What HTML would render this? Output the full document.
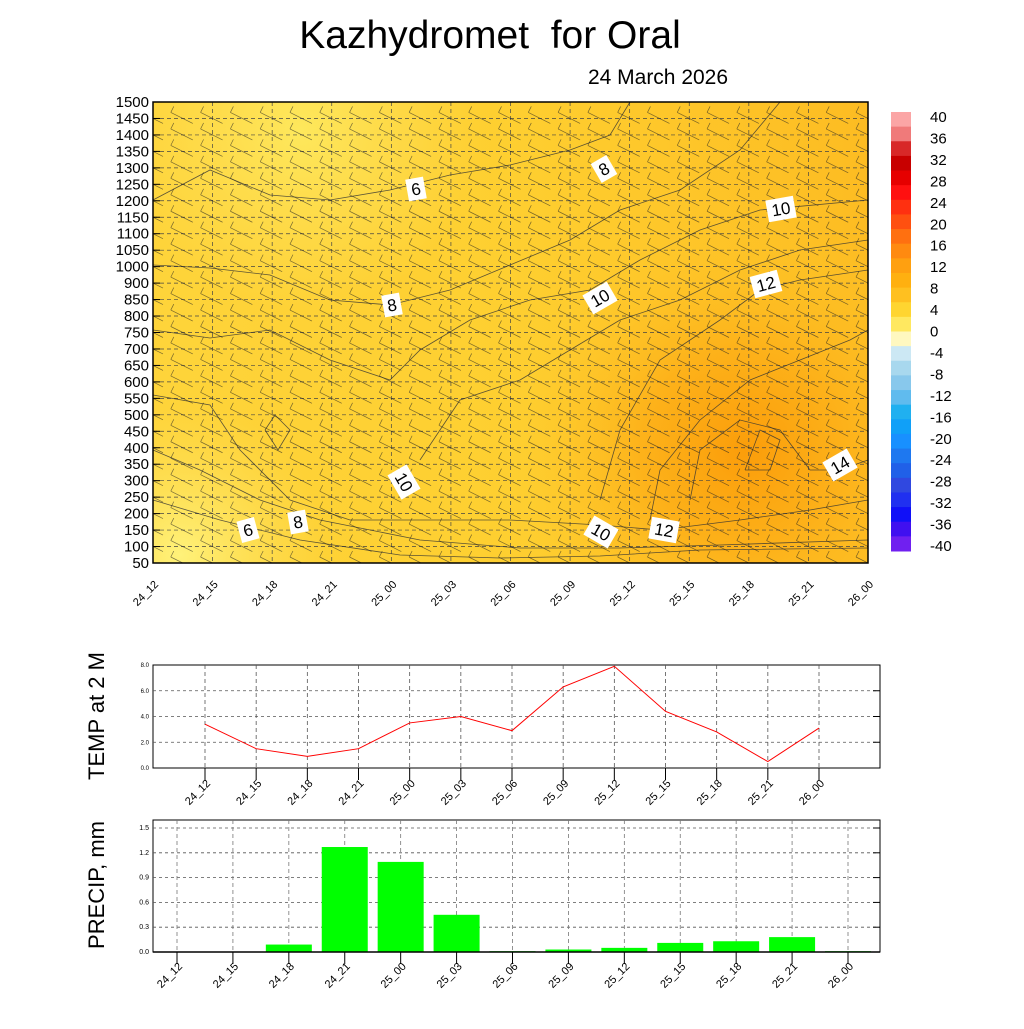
<!DOCTYPE html>
<html><head><meta charset="utf-8"><style>
body{margin:0;background:#fff;width:1024px;height:1024px;overflow:hidden}
svg text{font-family:"Liberation Sans",sans-serif}
</style></head><body>
<svg id="s" width="1024" height="1024" viewBox="0 0 1024 1024">
<defs>
<clipPath id="clipMain"><rect x="153" y="102" width="715" height="461"/></clipPath>
<radialGradient id="hot" cx="745" cy="450" r="230" gradientUnits="userSpaceOnUse">
<stop offset="0" stop-color="#fb9d0a"/><stop offset="0.45" stop-color="#fdb21a"/><stop offset="1" stop-color="#fdc82a" stop-opacity="0"/></radialGradient>
<linearGradient id="base" x1="0" y1="0" x2="1" y2="0">
<stop offset="0" stop-color="#fed43a"/><stop offset="0.5" stop-color="#fecf30"/><stop offset="1" stop-color="#fdbc22"/></linearGradient>
<radialGradient id="cool1" cx="180" cy="555" r="150" gradientUnits="userSpaceOnUse">
<stop offset="0" stop-color="#fff27a"/><stop offset="1" stop-color="#fee05a" stop-opacity="0"/></radialGradient>
<radialGradient id="cool2" cx="300" cy="130" r="180" gradientUnits="userSpaceOnUse">
<stop offset="0" stop-color="#fee85c"/><stop offset="1" stop-color="#fee05a" stop-opacity="0"/></radialGradient>
</defs>
<text x="490" y="48" font-size="39" text-anchor="middle" xml:space="preserve">Kazhydromet  for Oral</text>
<text x="658" y="84" font-size="21" text-anchor="middle">24 March 2026</text>
<g>
<rect x="153" y="102" width="715" height="461" fill="url(#base)"/>
<rect x="153" y="102" width="715" height="461" fill="url(#hot)"/>
<rect x="153" y="102" width="715" height="461" fill="url(#cool1)"/>
<rect x="153" y="102" width="715" height="461" fill="url(#cool2)"/>
<g id="grid"></g>
<g id="contours" fill="none" stroke="#333" stroke-width="0.8" opacity="0.8">
<polyline points="153,200 210,170 270,195 330,200 390,190 450,175 510,165 570,150 610,135 630,102"/>
<polyline points="153,265 210,268 270,275 330,300 390,305 450,290 510,265 570,240 620,210 680,190 740,150 780,102"/>
<polyline points="153,330 210,338 270,330 330,360 390,380 420,350 470,320 530,300 590,290 640,260 700,230 760,210 868,200"/>
<polyline points="153,395 210,405 240,450 290,500 350,520 420,520 510,520 600,525 660,530 740,520 810,510 868,500"/>
<polyline points="153,450 200,470 260,500 320,520 420,540 520,548 620,548 720,545 868,540"/>
<polyline points="153,500 220,520 300,540 400,555 500,558 600,556 700,550 868,548"/>
<polyline points="420,460 460,400 520,380 570,350 620,320 680,300 740,270 800,250 868,240"/>
<polyline points="600,500 620,430 660,360 720,320 760,290 800,280 868,270"/>
<polyline points="650,520 660,470 700,420 750,380 800,360 850,340 868,330"/>
<polyline points="690,500 700,450 740,420 780,430 810,470 840,470 868,460"/>
<polyline points="745,470 760,430 780,440 770,470 745,470"/>
<polyline points="265,430 275,415 290,430 278,450 265,430"/>
</g>
<g id="barbs" stroke="#222" stroke-width="0.7" opacity="0.6" clip-path="url(#clipMain)"></g>
<rect x="153" y="102" width="715" height="461" fill="none" stroke="#000" stroke-width="1.5"/>
<g font-size="17" text-anchor="middle">
<g transform="translate(416,189) rotate(-10)"><rect x="-9" y="-11" width="18" height="22" fill="#fff"/><text y="6">6</text></g>
<g transform="translate(604,169) rotate(-30)"><rect x="-9" y="-11" width="18" height="22" fill="#fff"/><text y="6">8</text></g>
<g transform="translate(781,209) rotate(-10)"><rect x="-14" y="-11" width="28" height="22" fill="#fff"/><text y="6">10</text></g>
<g transform="translate(392,305) rotate(-10)"><rect x="-9" y="-11" width="18" height="22" fill="#fff"/><text y="6">8</text></g>
<g transform="translate(600,298) rotate(-30)"><rect x="-14" y="-11" width="28" height="22" fill="#fff"/><text y="6">10</text></g>
<g transform="translate(766,284) rotate(-15)"><rect x="-14" y="-11" width="28" height="22" fill="#fff"/><text y="6">12</text></g>
<g transform="translate(404,482) rotate(60)"><rect x="-14" y="-11" width="28" height="22" fill="#fff"/><text y="6">10</text></g>
<g transform="translate(840,465) rotate(-30)"><rect x="-14" y="-11" width="28" height="22" fill="#fff"/><text y="6">14</text></g>
<g transform="translate(248,530) rotate(-15)"><rect x="-9" y="-11" width="18" height="22" fill="#fff"/><text y="6">6</text></g>
<g transform="translate(298,522) rotate(-10)"><rect x="-9" y="-11" width="18" height="22" fill="#fff"/><text y="6">8</text></g>
<g transform="translate(601,532) rotate(30)"><rect x="-14" y="-11" width="28" height="22" fill="#fff"/><text y="6">10</text></g>
<g transform="translate(664,530) rotate(10)"><rect x="-14" y="-11" width="28" height="22" fill="#fff"/><text y="6">12</text></g>
</g>
</g>
<g id="yl" font-size="15" text-anchor="end"></g>
<g id="xl" font-size="11"></g>
<g id="cb"></g>
<g id="temp"></g>
<g id="prec"></g>
<text transform="translate(104,716) rotate(-90)" font-size="22" text-anchor="middle">TEMP at 2 M</text>
<text transform="translate(104,885) rotate(-90)" font-size="22" text-anchor="middle">PRECIP, mm</text>
</svg>
<script>
const times=["24_12","24_15","24_18","24_21","25_00","25_03","25_06","25_09","25_12","25_15","25_18","25_21","26_00"];
const levels=["1500","1450","1400","1350","1300","1250","1200","1150","1100","1050","1000","900","850","800","750","700","650","600","550","500","450","400","350","300","250","200","150","100","50"];
const tempVals=[3.4,1.5,0.9,1.5,3.5,4.0,2.9,6.3,7.9,4.4,2.8,0.5,3.1];
const tempTicks=[0,2,4,6,8];
const precVals=[0,0,0.09,1.27,1.09,0.45,0.01,0.03,0.05,0.11,0.13,0.18,0.01];
const precTicks=[0,0.3,0.6,0.9,1.2,1.5];
const cbLabels=[40,36,32,28,24,20,16,12,8,4,0,-4,-8,-12,-16,-20,-24,-28,-32,-36,-40];
const NS="http://www.w3.org/2000/svg";
function mk(p,t,a,txt){const e=document.createElementNS(NS,t);for(const k in a)e.setAttribute(k,a[k]);if(txt!==undefined)e.textContent=txt;p.appendChild(e);return e;}
const G=id=>document.getElementById(id);
const mx=i=>153+i*715/(times.length-1);
const my=j=>102+j*461/(levels.length-1);
const grid=G('grid');
levels.forEach((l,j)=>{
 if(j>0&&j<levels.length-1){const e=mk(grid,'line',{x1:153,x2:868,y1:my(j),y2:my(j),stroke:'#444','stroke-dasharray':'4,3','stroke-width':0.7});
 
 }
 const t=mk(G('yl'),'text',{x:149,y:my(j)+5},l);
 
 
 mk(G('yl'),'line',{x1:153,x2:160,y1:my(j),y2:my(j),stroke:'#000'});
});
times.forEach((t,i)=>{
 if(i>0&&i<times.length-1){const e=mk(grid,'line',{x1:mx(i),x2:mx(i),y1:102,y2:563,stroke:'#444','stroke-dasharray':'4,3','stroke-width':0.7});
 
 }
 const tx=mk(G('xl'),'text',{transform:`translate(${mx(i)+6},${585}) rotate(-45)`,'text-anchor':'end'},t);
 
 
});
const bg=G('barbs');
for(let k=0;k<=24;k++){const x=153+k*715/24;
 for(let j=1;j<levels.length;j+=1){const y=my(j);
  const p=mk(bg,'path',{d:`M${x-12},${y-6} L${x+10},${y+5} M${x-12},${y-6} L${x-9},${y-12}`,fill:'none'});
  
  
 }}
const cb=G('cb');
const cbColors=["#fba5a5","#f07a7a","#d82828","#c80000","#e60000","#ff1010","#ff3010","#ff5010","#ff7010","#ff8a10","#ffa010","#ffb010","#ffc020","#ffd530","#ffe860","#fff8c0","#cce8f4","#a8d8ee","#88c8ec","#60bbee","#20b0f0","#10a0f8","#1890ff","#1e78f0","#2060e8","#3048e0","#2030f0","#1010f8","#4010f0","#7020f0"];
const cbN=cbColors.length, cbTop=112, cbH=439;
cbColors.forEach((c,i)=>{const r=mk(cb,'rect',{x:891,y:cbTop+i*cbH/cbN,width:20,height:cbH/cbN+0.5,fill:c});
 
 });
cbLabels.forEach((v,i)=>{const t=mk(cb,'text',{x:930,y:122+i*(546-117)/(cbLabels.length-1),'font-size':15},String(v));
 
 });
const T=G('temp'),tL=153,tR=880,tT=665,tB=768,tMax=8;
const tx=i=>205+i*(819-205)/(times.length-1);
const ty=v=>tB-v/tMax*(tB-tT);
mk(T,'rect',{x:tL,y:tT,width:tR-tL,height:tB-tT,fill:'none',stroke:'#000'});
tempTicks.forEach(v=>{
 if(v>0&&v<tMax){const g=mk(T,'line',{x1:tL,x2:tR,y1:ty(v),y2:ty(v),stroke:'#555','stroke-dasharray':'3,3','stroke-width':0.8});
 
 }
 const t=mk(T,'text',{x:tL-4,y:ty(v)+2,'font-size':6,'text-anchor':'end'},v.toFixed(1));
 
 
 mk(T,'line',{x1:tR-7,x2:tR,y1:ty(v),y2:ty(v),stroke:'#000'});
});
times.forEach((t,i)=>{
 mk(T,'line',{x1:tx(i),x2:tx(i),y1:tT,y2:tB,stroke:'#555','stroke-dasharray':'4,3','stroke-width':0.8});
 mk(T,'line',{x1:tx(i),x2:tx(i),y1:tB,y2:tB+12,stroke:'#000'});
 const l=mk(T,'text',{transform:`translate(${tx(i)+6},${784}) rotate(-45)`,'font-size':11,'text-anchor':'end'},t);
 
 
});
const tl=mk(T,'polyline',{points:tempVals.map((v,i)=>tx(i)+','+ty(v)).join(' '),fill:'none',stroke:'#ff0000','stroke-width':1});


const P=G('prec'),pL=153,pR=880,pT=820,pB=952,pMax=1.5,pTop=828;
const px=i=>177+i*(848-177)/(times.length-1);
const py=v=>pB-v/pMax*(pB-pTop);
mk(P,'rect',{x:pL,y:pT,width:pR-pL,height:pB-pT,fill:'none',stroke:'#000'});
precTicks.forEach(v=>{
 if(v>0){const g=mk(P,'line',{x1:pL,x2:pR,y1:py(v),y2:py(v),stroke:'#555','stroke-dasharray':'3,3','stroke-width':0.8});
 
 }
 const t=mk(P,'text',{x:pL-4,y:py(v)+2,'font-size':7,'text-anchor':'end'},v.toFixed(1));
 
 
 mk(P,'line',{x1:tR-7,x2:tR,y1:py(v),y2:py(v),stroke:'#000'});
});
times.forEach((t,i)=>{
 mk(P,'line',{x1:px(i),x2:px(i),y1:pT,y2:pB,stroke:'#777','stroke-dasharray':'4,3','stroke-width':0.8});
 mk(P,'line',{x1:px(i),x2:px(i),y1:pB,y2:pB+12,stroke:'#000'});
 const b=mk(P,'rect',{x:px(i)-23,y:py(precVals[i]),width:46,height:pB-py(precVals[i]),fill:'#00ff00'});
 
 
 const l=mk(P,'text',{transform:`translate(${px(i)+6},${967}) rotate(-45)`,'font-size':11,'text-anchor':'end'},t);
 
 
});
mk(P,'line',{x1:pL,x2:pR,y1:pB,y2:pB,stroke:'#000','stroke-width':1.5});
</script>
</body></html>
